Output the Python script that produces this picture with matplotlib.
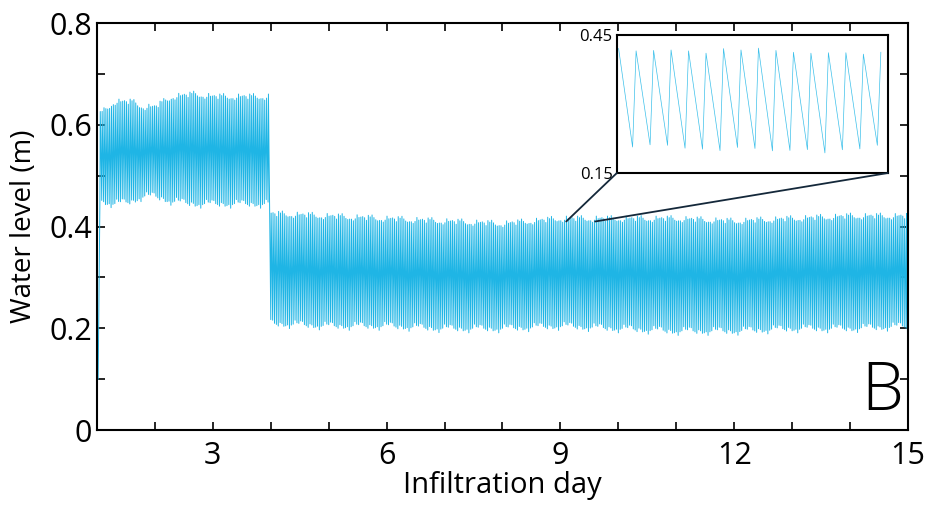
import numpy as np
import matplotlib
matplotlib.use("Agg")
import matplotlib.pyplot as plt
from matplotlib.patches import ConnectionPatch
from matplotlib.ticker import MultipleLocator

plt.rcParams['font.family'] = ['Open Sans', 'DejaVu Sans']

# envelope (day, upper level, lower level)
seg1_days = [1.05, 1.3, 1.6, 1.8, 2.0, 2.3, 2.7, 3.0, 3.5, 4.0]
seg1_top = [0.62, 0.645, 0.645, 0.635, 0.635, 0.655, 0.66, 0.655, 0.655, 0.655]
seg1_bot = [0.45, 0.445, 0.45, 0.46, 0.46, 0.45, 0.445, 0.445, 0.445, 0.445]

seg2_days = [4.0, 5, 6, 7, 8, 9, 10, 11, 12, 13, 14, 15]
seg2_top = [0.425, 0.42, 0.415, 0.41, 0.405, 0.415, 0.415, 0.415, 0.41, 0.415, 0.42, 0.42]
seg2_bot = [0.21, 0.205, 0.205, 0.2, 0.2, 0.205, 0.2, 0.195, 0.195, 0.2, 0.2, 0.205]

# single cycles (day 9.1 - 9.6)
inset_peaks = [0.420, 0.415, 0.416, 0.417, 0.415, 0.410, 0.420, 0.417,
               0.421, 0.416, 0.412, 0.410, 0.411, 0.411, 0.408, 0.412]
inset_troughs = [0.211, 0.210, 0.215, 0.214, 0.208, 0.206, 0.203, 0.210,
                 0.208, 0.203, 0.204, 0.206, 0.199, 0.206, 0.208, 0.216]

cycles_per_day = 31
rise_part = 0.2
start_level = 0.10
end_level = 0.10
zoom_x = (9.1, 9.6)
zoom_y = 0.41
y_ticks = [0, 0.2, 0.4, 0.6, 0.8]
y_labels = ['0', '0.2', '0.4', '0.6', '0.8']


def build_segment(days, top, bot, t0, t1):
    dp = np.array(inset_peaks) - np.mean(inset_peaks)
    dt = np.array(inset_troughs) - np.mean(inset_troughs)
    k0 = int(round((zoom_x[0] - t0) * cycles_per_day))
    ts, vs = [], []
    n = int((t1 - t0) * cycles_per_day)
    for k in range(n):
        t = t0 + k / cycles_per_day
        j = (k - k0) % len(dp)
        ts.append(t)
        vs.append(np.interp(t, days, bot) + dt[j])
        tp = t + rise_part / cycles_per_day
        ts.append(tp)
        vs.append(np.interp(tp, days, top) + dp[j])
    return ts, vs


x1, y1 = build_segment(seg1_days, seg1_top, seg1_bot, 1.05, 4.0)
x2, y2 = build_segment(seg2_days, seg2_top, seg2_bot, 4.0, 15.0)
x = [1.02] + x1 + x2 + [14.98, 15.0]
y = [start_level] + y1 + y2 + [0.30, end_level]

fig = plt.figure(figsize=(9.29, 5.08), dpi=100)
ax = fig.add_axes([0.1044, 0.1535, 0.873, 0.801])
ax.plot(x, y, color='#1fb5e5', lw=0.7)
ax.set_xlim(1, 15)
ax.set_ylim(0, 0.8)
ax.xaxis.set_major_locator(MultipleLocator(3))
ax.xaxis.set_minor_locator(MultipleLocator(1))
ax.set_yticks(y_ticks)
ax.set_yticklabels(y_labels)
ax.yaxis.set_minor_locator(MultipleLocator(0.1))
ax.tick_params(which='both', direction='in', top=True, right=True,
               length=6, width=1.2, labelsize=22)
ax.tick_params(axis='x', pad=8)
for s in ax.spines.values():
    s.set_linewidth(1.5)
ax.set_xlabel('Infiltration day', fontsize=21, labelpad=0)
ax.set_ylabel('Water level (m)', fontsize=20, labelpad=8)
ax.text(14.55, 0.04, 'B', fontsize=48, ha='center', fontweight='light')

# inset
ins = fig.add_axes([0.664, 0.6594, 0.2917, 0.2717])
mask = [(zoom_x[0] <= xi <= zoom_x[1]) for xi in x]
ins.plot(np.array(x)[mask], np.array(y)[mask], color='#3cc0ea', lw=0.5)
ins.set_xlim(zoom_x)
ins.set_ylim(0.15, 0.45)
ins.set_xticks([])
ins.set_yticks([0.15, 0.45])
ins.set_yticklabels(['0.15', '0.45'])
ins.tick_params(length=0, labelsize=12, pad=3)
for s in ins.spines.values():
    s.set_linewidth(1.5)

for xa, xb in [((0, 0), (zoom_x[0], zoom_y)), ((1, 0), (zoom_x[1], zoom_y))]:
    con = ConnectionPatch(xyA=xa, coordsA=ins.transAxes, xyB=xb,
                          coordsB=ax.transData, color='#14283a', lw=1.3)
    fig.add_artist(con)

fig.savefig('out.png', dpi=100)
